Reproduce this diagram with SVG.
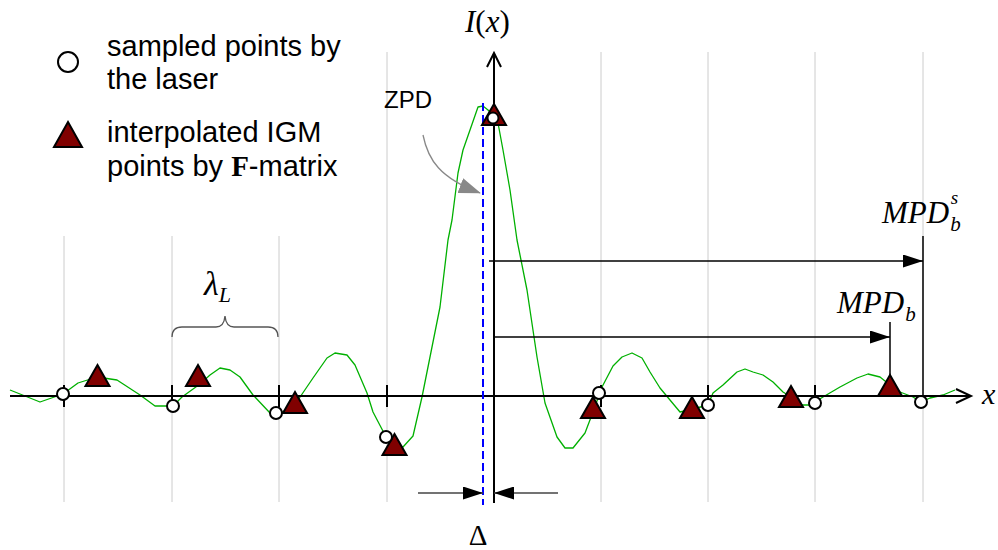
<svg xmlns="http://www.w3.org/2000/svg" width="998" height="550" viewBox="0 0 998 550">
<style>
.grid{stroke:#cccccc;stroke-width:1;fill:none}
.axis{stroke:#000;stroke-width:2;fill:none}
.tick{stroke:#000;stroke-width:2}
.samp{fill:#fff;stroke:#000;stroke-width:2}
.tri{fill:#800000;stroke:#000;stroke-width:2;stroke-linejoin:miter}
.sans{font-family:"Liberation Sans",Arial,sans-serif;fill:#000}
.serif{font-family:"Liberation Serif","Times New Roman",serif;fill:#000}
.it{font-style:italic}
.dim{stroke:#000;stroke-width:1.5;fill:none}
</style>
<defs>
<marker id="ah" markerWidth="20" markerHeight="13" refX="20" refY="6.5" orient="auto" markerUnits="userSpaceOnUse"><path d="M0,0 L20,6.5 L0,13 Z" fill="#000"/></marker>
<marker id="ahg" markerWidth="22" markerHeight="16" refX="21" refY="8" orient="auto" markerUnits="userSpaceOnUse"><path d="M0,0 L22,8 L0,16 Z" fill="#888"/></marker>
<path id="t" d="M0,-11 L12,10 L-12,10 Z"/>
</defs>
<g id="grid">
<line class="grid" x1="64" y1="236" x2="64" y2="502"/>
<line class="grid" x1="172" y1="236" x2="172" y2="502"/>
<line class="grid" x1="279" y1="236" x2="279" y2="502"/>
<line class="grid" x1="387" y1="52" x2="387" y2="502"/>
<line class="grid" x1="601" y1="52" x2="601" y2="502"/>
<line class="grid" x1="708" y1="52" x2="708" y2="502"/>
<line class="grid" x1="815" y1="52" x2="815" y2="502"/>
<line class="grid" x1="923" y1="52" x2="923" y2="502"/>
</g>
<g id="curve">
<polyline fill="none" stroke="#00b000" stroke-width="1.3" stroke-linejoin="round" points="10,390 40,402 63,394 78,383 97,377 117,380 140,395 155,406 167,406 173,406 182,397 200,384 210,375 220,368 230,370 240,377 253,395 270,413 283,412 296,403 313,378 327,358 335,353 347,355 355,365 367,393 373,412 385,435 394,446 403,447 413,436 422,397 430,357 440,307 448,240 452,220 458,173 463,150 470,130 478,107 483,106 488,110 493,115 498,123 503,150 510,190 517,240 527,290 537,357 545,403 557,437 565,448 573,448 585,433 593,412 602,387 613,366 622,357 632,353 642,358 650,372 660,388 670,400 680,412 693,409 708,405 713,393 723,385 737,372 745,369 753,372 763,375 773,382 783,392 791,397 800,405 810,405 823,397 840,387 857,378 868,374 880,377 890,385 900,392 913,397 921,402 930,398 943,395 955,390"/>
</g>
<g id="axes">
<line class="axis" x1="10" y1="396" x2="970" y2="396"/>
<polyline class="axis" points="956,389 971,396 956,403"/>
<line class="axis" x1="494" y1="53" x2="494" y2="503"/>
<polyline class="axis" points="487,67 494,53 501,67"/>
<line class="tick" x1="64" y1="385" x2="64" y2="407"/>
<line class="tick" x1="172" y1="385" x2="172" y2="407"/>
<line class="tick" x1="279" y1="385" x2="279" y2="407"/>
<line class="tick" x1="387" y1="385" x2="387" y2="407"/>
<line class="tick" x1="601" y1="385" x2="601" y2="407"/>
<line class="tick" x1="708" y1="385" x2="708" y2="407"/>
<line class="tick" x1="815" y1="385" x2="815" y2="407"/>
<text class="serif it" x="982" y="404" font-size="30">x</text>
<text class="serif" x="465" y="32" font-size="31"><tspan font-style="italic">I</tspan>(<tspan font-style="italic">x</tspan>)</text>
</g>
<g id="zpd">
<line x1="483" y1="103" x2="483" y2="505" stroke="#0000ff" stroke-width="2" stroke-dasharray="8,4"/>
<text class="sans" x="384" y="108" font-size="24">ZPD</text>
<path d="M423,135 C428,160 440,178 480,193" fill="none" stroke="#888" stroke-width="1.3" marker-end="url(#ahg)"/>
</g>
<g id="connectors">
<line class="dim" x1="489" y1="261" x2="923" y2="261" marker-end="url(#ah)"/>
<line class="dim" x1="494" y1="337" x2="890" y2="337" marker-end="url(#ah)"/>
<line class="dim" x1="923" y1="236" x2="923" y2="396"/>
<line class="dim" x1="890" y1="322" x2="890" y2="396"/>
<line x1="418" y1="493" x2="483" y2="493" stroke="#444" stroke-width="1.5" marker-end="url(#ah)"/>
<line x1="558" y1="493" x2="494" y2="493" stroke="#444" stroke-width="1.5" marker-end="url(#ah)"/>
</g>
<g id="labels">
<text class="serif it" x="882" y="223" font-size="31">MPD<tspan font-size="21" dy="8" dx="1">b</tspan><tspan font-size="19" dx="-10" dy="-27">s</tspan></text>
<text class="serif it" x="837" y="313" font-size="31">MPD<tspan font-size="21" dy="8" dx="1">b</tspan></text>
<text class="serif" x="478" y="545" font-size="29" text-anchor="middle">Δ</text>
<path d="M172,337 Q172,327 182,327 L216,327 Q224,327 225,316 Q226,327 234,327 L268,327 Q278,327 278,337" fill="none" stroke="#555" stroke-width="1.3"/>
<text class="serif it" x="204" y="295" font-size="34">λ<tspan font-size="22" dy="7">L</tspan></text>
</g>
<g id="triangles">
<use href="#t" class="tri" x="97.5" y="376"/>
<use href="#t" class="tri" x="198" y="376"/>
<use href="#t" class="tri" x="295" y="403"/>
<use href="#t" class="tri" x="394.5" y="445"/>
<use href="#t" class="tri" x="494" y="115"/>
<use href="#t" class="tri" x="593" y="408"/>
<use href="#t" class="tri" x="692" y="408"/>
<use href="#t" class="tri" x="791" y="397"/>
<use href="#t" class="tri" x="890" y="386"/>
</g>
<g id="samples">
<circle class="samp" cx="63" cy="394" r="6"/>
<circle class="samp" cx="173" cy="406" r="6"/>
<circle class="samp" cx="276" cy="413" r="6"/>
<circle class="samp" cx="386" cy="437" r="6"/>
<circle class="samp" cx="493" cy="118" r="5.5"/>
<circle class="samp" cx="599" cy="393" r="6"/>
<circle class="samp" cx="708" cy="405" r="6"/>
<circle class="samp" cx="815" cy="403" r="6"/>
<circle class="samp" cx="921" cy="402" r="6"/>
</g>
<g id="legend">
<circle class="samp" cx="68" cy="62" r="10"/>
<text class="sans" x="107" y="56" font-size="29">sampled points by</text>
<text class="sans" x="107" y="89" font-size="29">the laser</text>
<path class="tri" d="M68,122 L82,147 L54,147 Z"/>
<text class="sans" x="107" y="142" font-size="29">interpolated IGM</text>
<text class="sans" x="107" y="176" font-size="29">points by <tspan class="serif" font-weight="bold">F</tspan>-matrix</text>
</g>
</svg>
